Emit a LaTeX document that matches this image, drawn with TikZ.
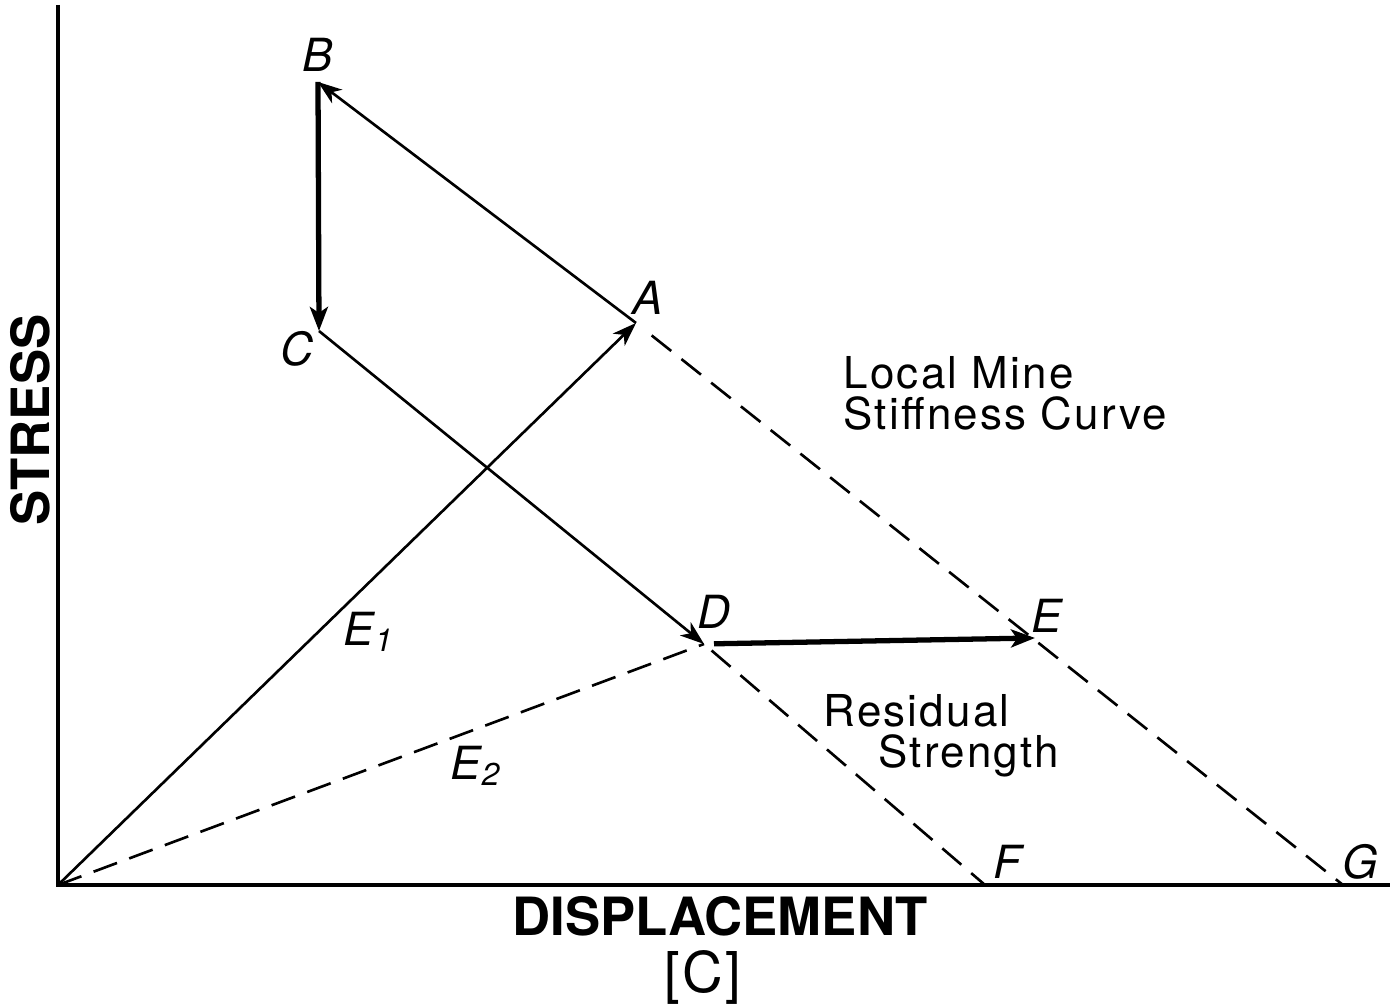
\documentclass[tikz,border=0pt]{standalone}
\usepackage{fontspec}
\setmainfont{TeX Gyre Heros}
\usetikzlibrary{arrows.meta, positioning, calc}

\begin{document}
\begin{tikzpicture}[x=0.1mm, y=-0.1mm,
    path/.style={line width=0.75pt, -{Stealth[length=2.4mm, width=1.7mm, inset=0.7mm]}},
    jump/.style={line width=1.5pt, -{Stealth[length=2.4mm, width=1.8mm, inset=0.6mm]}},
    guide/.style={line width=0.75pt, dash pattern=on 2.5mm off 1.3mm},
    pt/.style={font=\fontsize{13}{13}\selectfont\itshape, inner sep=0pt},
    axislabel/.style={font=\fontsize{15}{15}\selectfont\bfseries},
    note/.style={font=\fontsize{12.5}{11.6}\selectfont\addfontfeature{LetterSpace=5}, align=left, inner sep=0pt}]

    \useasboundingbox (0,0) rectangle (1395,1005);

    % --- points of the loading path ---
    \coordinate (O) at (58,885);
    \coordinate (A) at (636,323);
    \coordinate (B) at (318,82);
    \coordinate (C) at (319,331);
    \coordinate (D) at (704,644);
    \coordinate (E) at (1035,638);
    \coordinate (F) at (985,885);
    \coordinate (G) at (1343,885);
    \coordinate (ytop) at (58,5);
    \coordinate (xend) at (1390,885);

    % --- axes ---
    \draw[line width=1.1pt] (ytop) -- (O) -- (xend);
    \node[axislabel, rotate=90] (stress) at (30,420) {STRESS};
    \node[axislabel] (disp) at (720,916) {DISPLACEMENT};
    \node[font=\fontsize{16}{16}\selectfont\addfontfeature{LetterSpace=4}] (panel) at (703,977) {[C]};

    % --- stiffness lines (dashed) ---
    \draw[guide] (O) -- (D);
    \draw[guide, shorten <=2mm] (A) -- (G);
    \draw[guide, shorten <=1mm] (D) -- (F);

    % --- loading path ---
    \draw[path] (O) -- (A);
    \draw[path] (A) -- (B);
    \draw[jump] (B) -- (C);
    \draw[path] (C) -- (D);
    \draw[jump, shorten <=1mm] (D) -- (E);

    % --- point labels ---
    \node[pt] (lA) at (648,298) {A};
    \node[pt] (lB) at (318,55) {B};
    \node[pt] (lC) at (297,349) {C};
    \node[pt] (lD) at (714,612) {D};
    \node[pt] (lE) at (1047,616) {E};
    \node[pt] (lF) at (1007,862) {F};
    \node[pt] (lG) at (1360,862) {G};
    \node[pt] (lE1) at (368,632) {E\kern0.3pt{\fontsize{9}{9}\selectfont\raisebox{-0.35ex}{1}}};
    \node[pt] (lE2) at (475,766) {E\kern0.3pt{\fontsize{9}{9}\selectfont\raisebox{-0.35ex}{2}}};

    % --- curve names ---
    \node[note, anchor=north west] (stiff) at (843,356) {Local Mine\\Stiffness Curve};
    \node[note, anchor=north west] (resid) at (823,694) {Residual\\\hspace*{5.5mm}Strength};
\end{tikzpicture}
\end{document}
